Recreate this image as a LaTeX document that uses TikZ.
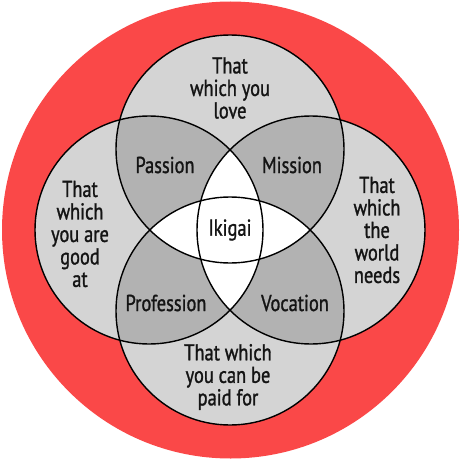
\documentclass[tikz,border=0pt]{standalone}
\usepackage{fontspec}
\setmainfont{PT Sans}[FakeStretch=0.8,FakeBold=1.2]
\definecolor{ringred}{RGB}{250,72,72}
\definecolor{singlegray}{RGB}{212,212,212}
\definecolor{pairgray}{RGB}{178,178,178}
\definecolor{inkgray}{RGB}{20,20,20}

\begin{document}
\begin{tikzpicture}[x=1pt,y=-1pt,
    region/.style={align=center,text=inkgray,inner sep=0pt,
        font=\fontsize{23}{22.5}\selectfont},
    outline/.style={draw=black,line width=1.4pt}
]
\useasboundingbox (0,0) rectangle (460,460);
\fill[ringred] (230.5,230) circle[radius=228.5];

% circle centres
\coordinate (love) at (230,149);
\coordinate (good) at (149,230);
\coordinate (world) at (311,230);
\coordinate (paid) at (230,311);

\foreach \c in {love,good,world,paid}
    \fill[singlegray] (\c) circle[radius=114];
% two circles overlap
\foreach \a/\b in {love/good,love/world,good/paid,world/paid,love/paid,good/world}{
    \begin{scope}
        \clip (\a) circle[radius=114];
        \fill[pairgray] (\b) circle[radius=114];
    \end{scope}
}
% three circles overlap
\foreach \a/\b/\d in {love/good/world,love/good/paid,love/world/paid,good/world/paid}{
    \begin{scope}
        \clip (\a) circle[radius=114];
        \clip (\b) circle[radius=114];
        \fill[white] (\d) circle[radius=114];
    \end{scope}
}
\foreach \c in {love,good,world,paid}
    \draw[outline] (\c) circle[radius=114];

\node[region] (lovetext) at (230,88) {That\\which you\\love};
\node[region] (goodtext) at (80,234) {That\\which\\you are\\good\\at};
\node[region] (worldtext) at (377,230) {That\\which\\the\\world\\needs};
\node[region] (paidtext) at (228,377) {That which\\you can be\\paid for};

\node[region] (passion) at (165,165) {Passion};
\node[region] (mission) at (292,165) {Mission};
\node[region] (profession) at (166,303) {Profession};
\node[region] (vocation) at (295,303) {Vocation};
\node[region] (ikigai) at (230,230) {Ikigai};
\end{tikzpicture}
\end{document}
